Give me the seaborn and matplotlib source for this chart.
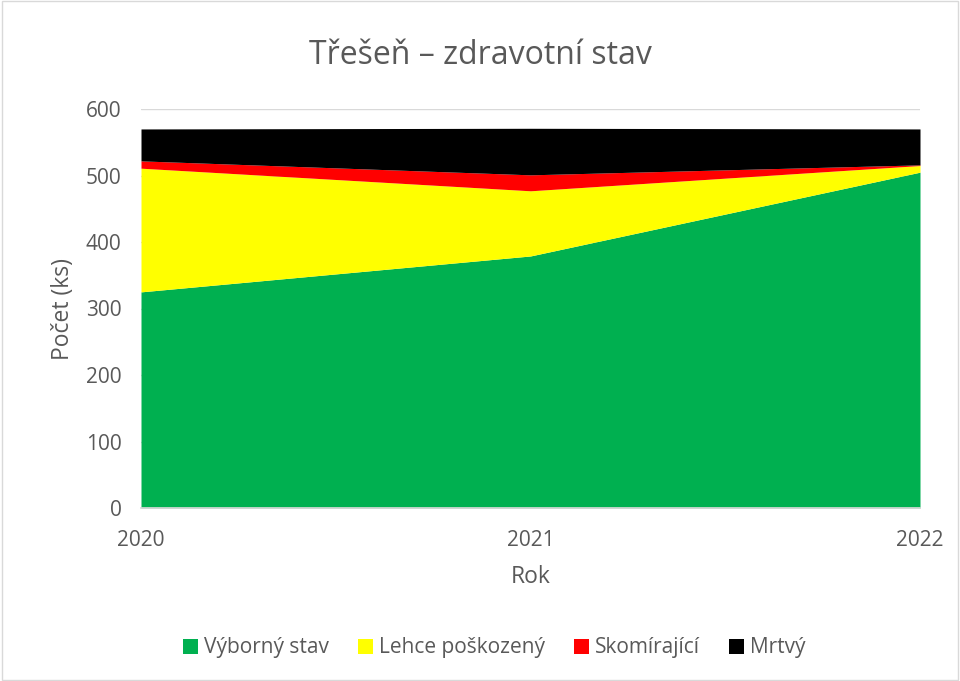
import numpy as np
import matplotlib
matplotlib.use('Agg')
import matplotlib.pyplot as plt
import seaborn as sns
from matplotlib.patches import Patch

# values
years = [2020, 2021, 2022]
vyborny = [325, 379, 505]
lehce = [186, 98, 10]
skomirajici = [11, 24, 1]
mrtvy = [48, 70, 54]

labels = ['Výborný stav', 'Lehce poškozený', 'Skomírající', 'Mrtvý']
colors = ['#00b050', '#ffff00', '#ff0000', '#000000']

sns.set_theme(style='white')
plt.rcParams['font.family'] = ['Open Sans', 'DejaVu Sans']
text_col = '#595959'

fig = plt.figure(figsize=(9.6, 6.81), dpi=100)
ax = fig.add_axes([141 / 960, 1 - 508 / 681, (920 - 141) / 960, (508 - 109) / 681])

ax.stackplot(years, vyborny, lehce, skomirajici, mrtvy, colors=colors, lw=0, zorder=2)

ax.set_xlim(2020, 2022)
ax.set_ylim(0, 600)
ax.set_yticks(np.arange(0, 601, 100))
ax.set_xticks(years)
ax.yaxis.grid(True, color='#d9d9d9', lw=1, zorder=0)
ax.tick_params(axis='both', labelsize=15, colors=text_col, length=0)
ax.tick_params(axis='y', pad=14)
ax.tick_params(axis='x', pad=16)
for s in ['top', 'right', 'left']:
    ax.spines[s].set_visible(False)
ax.spines['bottom'].set_color('#d9d9d9')

ax.set_xlabel('Rok', fontsize=16.5, color=text_col, labelpad=10)
ax.set_ylabel('Počet (ks)', fontsize=16.5, color=text_col, labelpad=8)
fig.text(0.5, 1 - 55 / 681, 'Třešeň – zdravotní stav', ha='center', va='center',
         fontsize=23, color=text_col)

handles = [Patch(facecolor=c, edgecolor='none') for c in colors]
fig.legend(handles, labels, loc='center', bbox_to_anchor=(0.515, 1 - 648 / 681), ncol=4,
           frameon=False, fontsize=15, handlelength=0.7, handleheight=0.7,
           handletextpad=0.3, columnspacing=1.4, labelcolor=text_col)

# light border around the chart
fig.patches.append(plt.Rectangle((0.002, 0.002), 0.996, 0.996, transform=fig.transFigure,
                                 fill=False, edgecolor='#d9d9d9', lw=1))

fig.savefig('out.png', dpi=100)
